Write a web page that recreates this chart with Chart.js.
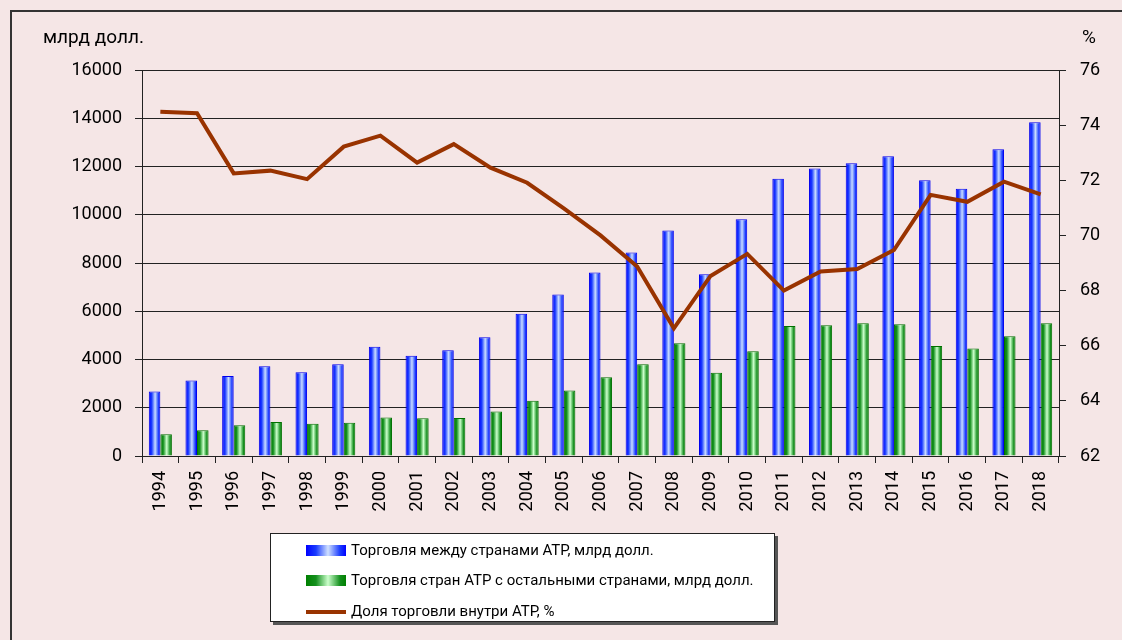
<!DOCTYPE html>
<html>
<head>
<meta charset="utf-8">
<script src="https://cdn.jsdelivr.net/npm/chart.js@4/dist/chart.umd.min.js"></script>
<style>
  html, body { margin: 0; padding: 0; background: #f5e6e6; width: 1122px; height: 640px; overflow: hidden; font-family: Roboto, "Noto Sans", sans-serif; }
  #frame { position: absolute; left: 10px; top: 10px; width: 1140px; height: 660px; border: 2px solid #333; box-sizing: border-box; }
  #wrap { position: absolute; left: 0; top: 0; width: 1122px; height: 640px; }
  .atitle { position: absolute; font-size: 19px; color: #000; line-height: 20px; }
  #legend { position: absolute; left: 270px; top: 533px; width: 505px; height: 89px; background: #fff; border: 1px solid #222; box-sizing: border-box; box-shadow: 3px 3px 0 #555; }
  .li { position: absolute; left: 35px; height: 20px; display: flex; align-items: center; font-size: 15px; color: #000; white-space: nowrap; }
  .sw { width: 40px; height: 11px; margin-right: 5px; flex: none; }
  .sw.blue { background: linear-gradient(to right, #0000ff, #1a3cff 25%, #cfe0ff 55%, #1a3cff 85%, #0000ff); }
  .sw.green { background: linear-gradient(to right, #008000, #14901e 25%, #ccffcc 55%, #14901e 85%, #008000); }
  .sw.line { height: 4px; background: #993300; margin-top: 1px; }
</style>
</head>
<body>
<div id="frame"></div>
<div id="wrap"><canvas id="c" width="1122" height="640"></canvas></div>
<div class="atitle" style="left:43px; top:27px;">млрд долл.</div>
<div class="atitle" style="left:1082px; top:27px;">%</div>
<div id="legend">
  <div class="li" style="top:6px;"><div class="sw blue"></div>Торговля между странами АТР, млрд долл.</div>
  <div class="li" style="top:36px;"><div class="sw green"></div>Торговля стран АТР с остальными странами, млрд долл.</div>
  <div class="li" style="top:67px;"><div class="sw line"></div>Доля торговли внутри АТР, %</div>
</div>
<script>
const categories = ['1994','1995','1996','1997','1998','1999','2000','2001','2002','2003','2004','2005','2006','2007','2008','2009','2010','2011','2012','2013','2014','2015','2016','2017','2018'];
const tradeWithin = [2670, 3130, 3320, 3720, 3470, 3800, 4530, 4160, 4380, 4920, 5900, 6690, 7610, 8440, 9350, 7530, 9810, 11490, 11920, 12130, 12430, 11430, 11080, 12720, 13830];
const tradeOutside = [900, 1070, 1270, 1410, 1340, 1380, 1600, 1560, 1580, 1840, 2290, 2720, 3260, 3800, 4670, 3450, 4340, 5390, 5420, 5500, 5460, 4560, 4460, 4960, 5500];
const shareWithin = [74.49, 74.43, 72.25, 72.35, 72.04, 73.22, 73.62, 72.64, 73.31, 72.46, 71.91, 70.98, 70.0, 68.87, 66.63, 68.53, 69.33, 68.0, 68.69, 68.78, 69.47, 71.47, 71.22, 71.95, 71.49];
const leftTicks = [0, 16000, 2000];
const rightTicks = [62, 76, 2];

const FONT = 'Roboto, "Noto Sans", sans-serif';
const CAT_PCT = 0.63;

function barGradient(which, dark, mid, light) {
  return function (ctx) {
    const chart = ctx.chart;
    const xs = chart.scales && chart.scales.x;
    if (ctx.type !== 'data' || !xs) return dark;
    const c = xs.getPixelForValue(ctx.dataIndex);
    const cw = xs.width / categories.length;
    if (!isFinite(c) || !isFinite(cw) || cw <= 0) return dark;
    const bw = cw * CAT_PCT / 2;
    const x0 = which === 0 ? c - bw : c;
    const g = chart.ctx.createLinearGradient(x0, 0, x0 + bw, 0);
    g.addColorStop(0, dark);
    g.addColorStop(0.25, mid);
    g.addColorStop(0.55, light);
    g.addColorStop(0.85, mid);
    g.addColorStop(1, dark);
    return g;
  };
}

new Chart(document.getElementById('c'), {
  data: {
    labels: categories,
    datasets: [
      { type: 'line', label: 'Доля торговли внутри АТР, %', data: shareWithin, yAxisID: 'y1',
        borderColor: '#993300', borderWidth: 4, pointRadius: 0, tension: 0, order: 0, fill: false },
      { type: 'bar', label: 'Торговля между странами АТР, млрд долл.', data: tradeWithin, yAxisID: 'y',
        backgroundColor: barGradient(0, '#0000ff', '#1a3cff', '#c8dcff'), borderColor: '#0000ee', borderWidth: 1,
        categoryPercentage: CAT_PCT, barPercentage: 1.0, order: 1 },
      { type: 'bar', label: 'Торговля стран АТР с остальными странами, млрд долл.', data: tradeOutside, yAxisID: 'y',
        backgroundColor: barGradient(1, '#008000', '#14901e', '#ccffcc'), borderColor: '#007000', borderWidth: 1,
        categoryPercentage: CAT_PCT, barPercentage: 1.0, order: 1 }
    ]
  },
  options: {
    responsive: false,
    animation: false,
    layout: { padding: { left: 0, top: 70, right: 13, bottom: 124 } },
    plugins: { legend: { display: false }, tooltip: { enabled: false } },
    scales: {
      x: {
        offset: true,
        grid: { display: true, drawOnChartArea: false, tickLength: 7, color: '#222', offset: true },
        border: { display: true, color: '#222', width: 1 },
        ticks: { minRotation: 90, maxRotation: 90, autoSkip: false, padding: 8, color: '#000', font: { size: 18, family: FONT } },
        afterFit: s => { s.height = 60; }
      },
      y: {
        position: 'left', min: leftTicks[0], max: leftTicks[1],
        ticks: { stepSize: leftTicks[2], padding: 13, color: '#000', font: { size: 18, family: FONT },
                 callback: v => String(v) },
        grid: { color: '#222', tickLength: 7 },
        border: { color: '#222' },
        afterFit: s => { s.width = 142; }
      },
      y1: {
        position: 'right', min: rightTicks[0], max: rightTicks[1],
        ticks: { stepSize: rightTicks[2], padding: 14, color: '#000', font: { size: 18, family: FONT },
                 callback: v => String(v) },
        grid: { drawOnChartArea: false, tickLength: 7, color: '#222' },
        border: { color: '#222' },
        afterFit: s => { s.width = 50; }
      }
    }
  }
});
</script>
</body>
</html>
